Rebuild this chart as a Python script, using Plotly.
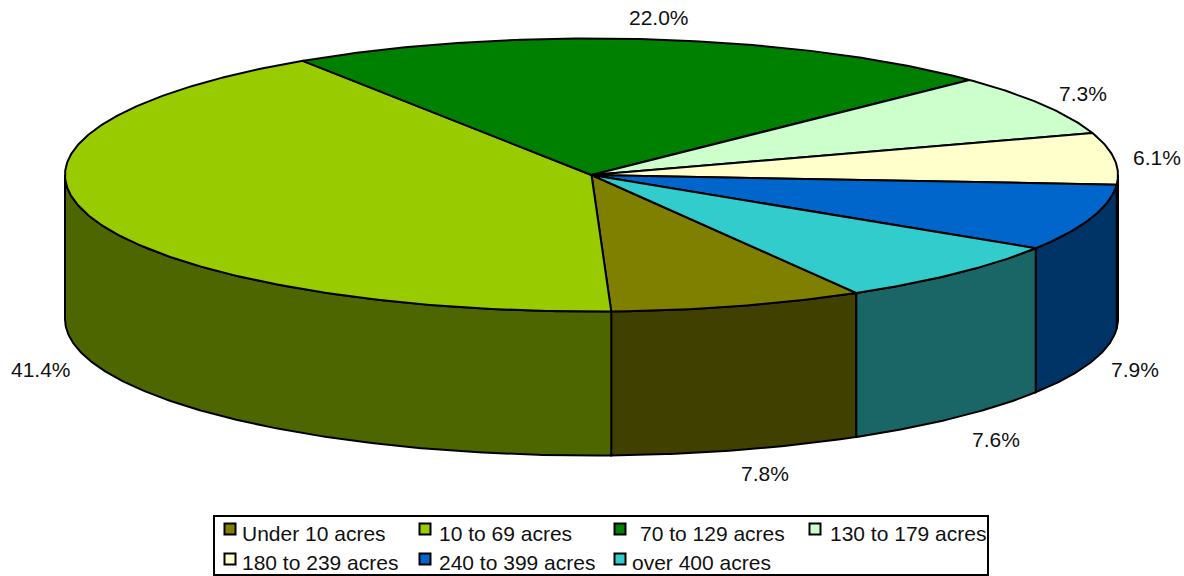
import numpy as np
import plotly.graph_objects as go

categories = ["Under 10 acres", "10 to 69 acres", "70 to 129 acres", "130 to 179 acres",
              "180 to 239 acres", "240 to 399 acres", "over 400 acres"]
shares = [7.8, 41.4, 22.0, 7.3, 6.1, 7.9, 7.6]
top_colors = ["#808000", "#99CC00", "#008000", "#CCFFCC", "#FFFFCC", "#0066CC", "#33CCCC"]
wall_colors = ["#404000", "#4D6600", "#004000", "#668066", "#808066", "#003366", "#1A6666"]
label_centres = [(765, 473), (41, 369), (659, 17), (1083, 93), (1157, 157), (1135, 369), (996, 439)]
legend_marks = [(230, 529), (425, 529), (620, 529), (815, 529), (230, 559), (425, 559), (620, 559)]
legend_text = [(314, 533), (505, 533), (712, 533), (908, 533), (320, 562), (517, 562), (701, 562)]

CX, CY, RX, RY, DEPTH = 591.5, 175, 526.5, 136.5, 144
START = 30.2
FONT = "Liberation Sans, Arial, sans-serif"


def arc(a, b, dy=0.0):
    t = np.radians(np.linspace(a, b, max(2, int(abs(a - b) * 2) + 1)))
    return CX + RX * np.sin(t), CY + dy + RY * np.cos(t)


fractions = np.array(shares) / sum(shares)
edges = START - np.concatenate([[0], np.cumsum(fractions) * 360])

fig = go.Figure()

# walls of the cylinder: only the front half (-90..90 degrees) is visible
for i, name in enumerate(categories):
    a, b = edges[i], edges[i + 1]
    for shift in (0, -360):
        hi, lo = min(a, 90 + shift), max(b, -90 + shift)
        if hi <= lo:
            continue
        x1, y1 = arc(hi, lo)
        x2, y2 = arc(lo, hi, DEPTH)
        fig.add_trace(go.Scatter(
            x=np.r_[x1, x2, x1[0]], y=np.r_[y1, y2, y1[0]], mode="lines", fill="toself",
            fillcolor=wall_colors[i], line=dict(color="black", width=2),
            name=name, showlegend=False, hoverinfo="name"))

# top faces
for i, name in enumerate(categories):
    x, y = arc(edges[i], edges[i + 1])
    fig.add_trace(go.Scatter(
        x=np.r_[CX, x, CX], y=np.r_[CY, y, CY], mode="lines", fill="toself",
        fillcolor=top_colors[i], line=dict(color="black", width=2),
        name=name, showlegend=False, text=f"{shares[i]:.1f}%", hoverinfo="name+text"))

# percentage labels
for share, (lx, ly) in zip(shares, label_centres):
    fig.add_annotation(x=lx, y=ly, text=f"{share:.1f}%", showarrow=False,
                       font=dict(family=FONT, size=21, color="#111111"),
                       xanchor="center", yanchor="middle")

# legend frame, keys and texts
fig.add_shape(type="rect", x0=214, x1=988, y0=516, y1=575,
              line=dict(color="black", width=2), fillcolor="white", layer="below")
for i, name in enumerate(categories):
    mx, my = legend_marks[i]
    fig.add_trace(go.Scatter(
        x=[mx], y=[my], mode="markers", name=name, showlegend=False, hoverinfo="name",
        marker=dict(symbol="square", size=11, color=top_colors[i],
                    line=dict(color="black", width=2))))
    tx, ty = legend_text[i]
    fig.add_annotation(x=tx, y=ty, text=name, showarrow=False,
                       font=dict(family=FONT, size=21, color="#111111"),
                       xanchor="center", yanchor="middle")

fig.update_layout(
    width=1184, height=576, autosize=False,
    margin=dict(l=0, r=0, t=0, b=0),
    paper_bgcolor="white", plot_bgcolor="white", showlegend=False,
    xaxis=dict(range=[0, 1184], visible=False, fixedrange=True),
    yaxis=dict(range=[576, 0], visible=False, fixedrange=True),
)
fig.write_html("out.html", config={"displayModeBar": False},
               post_script="document.body.style.margin='0';document.body.style.overflow='hidden';")
